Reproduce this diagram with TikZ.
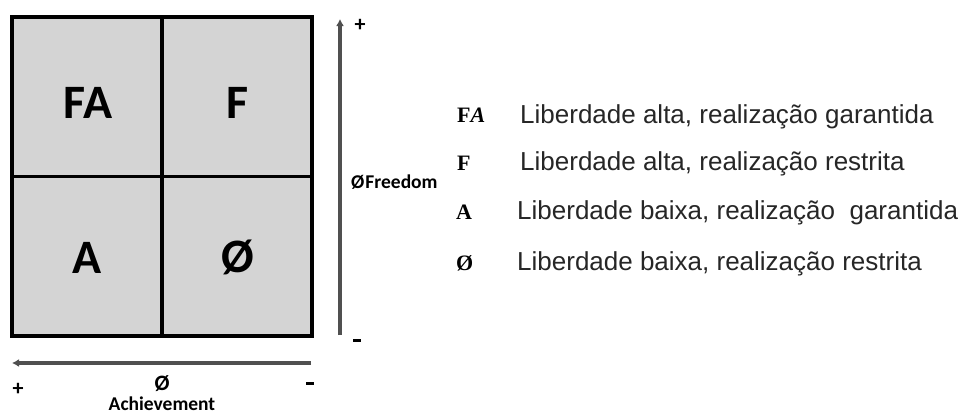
\documentclass[tikz,border=0pt]{standalone}
\usepackage{fontspec}
\setmainfont{Liberation Sans}
\newfontfamily\carlito{Carlito}
\newfontfamily\timesb{Liberation Serif}
\usetikzlibrary{arrows.meta}
\definecolor{cellgray}{RGB}{212,212,212}
\definecolor{axisgray}{RGB}{80,80,80}
\begin{document}
\begin{tikzpicture}[x=1pt,y=-1pt,
  cell/.style={draw=black,fill=cellgray,line width=3.5pt,minimum width=150pt,minimum height=159.5pt,inner sep=0pt,outer sep=0pt},
  biglabel/.style={font=\carlito\bfseries\fontsize{48}{48}\selectfont,anchor=base,inner sep=0pt},
  axis/.style={draw=axisgray,line width=3.2pt,-{Latex[length=7pt,width=8pt]}},
  sign/.style={font=\carlito\bfseries\fontsize{22}{22}\selectfont,inner sep=0pt},
  small/.style={font=\carlito\bfseries\fontsize{19.5}{19.5}\selectfont,inner sep=0pt},
  abbr/.style={font=\timesb\bfseries\fontsize{22}{22}\selectfont,anchor=base west,inner sep=0pt},
  desc/.style={font=\fontsize{26}{26}\selectfont,anchor=base west,inner sep=0pt,text=black!85}]
\useasboundingbox (0,0) rectangle (968,413);
% grid cells
\node[cell] (c11) at (87,96.5) {};
\node[cell] (c12) at (237,96.5) {};
\node[cell] (c21) at (87,256) {};
\node[cell] (c22) at (237,256) {};
\draw[line width=3.5pt] (12,17) rectangle (312,336);
\node[biglabel] (lFA) at (88,118) {FA};
\node[biglabel] (lF) at (238,118) {F};
\node[biglabel] (lA) at (87,273) {A};
\node[biglabel] (lO) at (238,272) {Ø};
% vertical axis
\coordinate (vb) at (340,335);
\coordinate (vt) at (340,19);
\draw[axis] (vb) -- (vt);
\node[sign] (vp) at (360,25) {+};
\node[sign] (vm) at (357,340) {\rule{8pt}{3pt}};
\node[small,anchor=base west] (fr) at (351,188) {Ø\hspace{1pt}Freedom};
% horizontal axis
\coordinate (hr) at (311,363);
\coordinate (hl) at (12,363);
\draw[axis] (hr) -- (hl);
\node[sign] (hp) at (18,389) {+};
\node[sign] (hm) at (310,383) {\rule{8pt}{3pt}};
\node[sign] (ho) at (162,384) {Ø};
\node[small,anchor=base] (ach) at (162,410) {Achievement};
% legend
\node[abbr] (aFA) at (457,122) {F\textit{A}};
\node[desc] (dFA) at (520,123) {Liberdade alta, realização garantida};
\node[abbr] (aF) at (457,170) {F};
\node[desc] (dF) at (520,170) {Liberdade alta, realização restrita};
\node[abbr] (aA) at (456,219) {A};
\node[desc] (dA) at (517,219) {Liberdade baixa, realização\ \ garantida};
\node[abbr] (aO) at (456,270) {Ø};
\node[desc] (dO) at (517,270) {Liberdade baixa, realização restrita};
\end{tikzpicture}
\end{document}
